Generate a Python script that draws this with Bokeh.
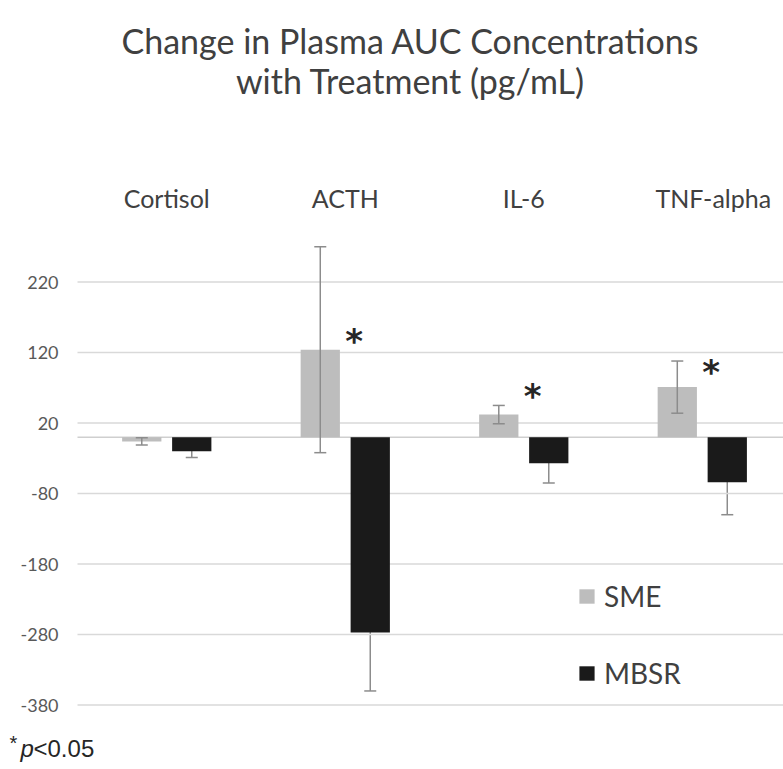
from bokeh.plotting import figure
from bokeh.models import (Range1d, Whisker, ColumnDataSource, Legend, LegendItem,
                          Label, TeeHead)
from bokeh.core.properties import value
from bokeh.embed import file_html
from bokeh.resources import INLINE

categories = ["Cortisol", "ACTH", "IL-6", "TNF-alpha"]
sme = [-6, 124, 32, 71]
sme_err = [5, 146, 13, 37]
mbsr = [-20, -277, -37, -64]
mbsr_err = [9, 83, 28, 46]
star_cats = ["ACTH", "IL-6", "TNF-alpha"]
star_y = [136, 58, 92]
y_ticks = [220, 120, 20, -80, -180, -280, -380]
title_lines = ["Change in Plasma AUC Concentrations", "with Treatment (pg/mL)"]

FONT = "Lato"
W, H = 783, 769
centers = [i + 0.5 for i in range(len(categories))]
label_shift = [0, 0, 0, 11]
off = 0.14
bw = 0.22
x_end = 3.955
x_start = -0.4314

p = figure(width=W, height=H, output_backend="svg", toolbar_location=None,
           x_range=Range1d(x_start, x_end), y_range=Range1d(-471.4, 619.4),
           x_axis_location=None, y_axis_location=None, min_border=0)
p.outline_line_color = None
p.background_fill_color = "white"
p.border_fill_color = "white"
p.grid.visible = False

# gridlines and tick labels
p.segment(x0=[0] * len(y_ticks), x1=[x_end] * len(y_ticks), y0=y_ticks, y1=y_ticks,
          line_color="#d9d9d9", line_width=1.5)
p.text(x=[0] * len(y_ticks), y=y_ticks, text=[str(t) for t in y_ticks], x_offset=-19,
       text_align="right", text_baseline="middle", text_font=value(FONT),
       text_font_size="18px", text_color="#595959")
p.segment(x0=[0], x1=[x_end], y0=[0], y1=[0], line_color="#cfcfcf", line_width=1.5)

# category labels on top
for c, n, s in zip(centers, categories, label_shift):
    p.add_layout(Label(x=c, y=197, x_units="data", y_units="canvas", text=n, x_offset=s,
                       text_align="center", text_baseline="middle", text_font=FONT,
                       text_font_size="25px", text_color="#404040"))

sme_src = ColumnDataSource(dict(x=[c - off for c in centers], top=sme,
                                upper=[v + e for v, e in zip(sme, sme_err)],
                                lower=[v - e for v, e in zip(sme, sme_err)]))
mbsr_src = ColumnDataSource(dict(x=[c + off for c in centers], top=mbsr,
                                 upper=[v + e for v, e in zip(mbsr, mbsr_err)],
                                 lower=[v - e for v, e in zip(mbsr, mbsr_err)]))

r_sme = p.vbar(x="x", top="top", bottom=0, width=bw, source=sme_src,
               fill_color="#bdbdbd", line_color=None)
r_mbsr = p.vbar(x="x", top="top", bottom=0, width=bw, source=mbsr_src,
                fill_color="#1a1a1a", line_color=None)

ec = "#8c8c8c"
w1 = Whisker(base="x", upper="upper", lower="lower", source=sme_src, level="annotation",
             line_color=ec, line_width=1.5,
             upper_head=TeeHead(size=12, line_color=ec, line_width=1.5),
             lower_head=TeeHead(size=12, line_color=ec, line_width=1.5))
w2 = Whisker(base="x", upper="upper", lower="lower", source=mbsr_src, level="underlay",
             line_color=ec, line_width=1.5,
             upper_head=TeeHead(size=12, line_color=ec, line_width=1.5),
             lower_head=TeeHead(size=12, line_color=ec, line_width=1.5))
p.add_layout(w1)
p.add_layout(w2)

p.text(x=[centers[categories.index(c)] + 0.05 for c in star_cats], y=star_y,
       text=["*"] * len(star_cats), text_align="center", text_baseline="middle",
       text_font=value("DejaVu Sans"), text_font_size="34px", text_font_style="bold",
       text_color="#262626")

legend = Legend(items=[LegendItem(label="SME", renderers=[r_sme]),
                       LegendItem(label="MBSR", renderers=[r_mbsr])],
                location=(577, 79), orientation="vertical",
                border_line_color=None, background_fill_alpha=0,
                glyph_width=19, glyph_height=18, label_height=30,
                label_text_font=FONT, label_text_font_size="28px",
                label_text_color="#404040", spacing=43, padding=0, margin=0,
                label_standoff=8)
p.add_layout(legend)

for i, t in enumerate(title_lines):
    p.add_layout(Label(x=410, y=40 + 40 * i, x_units="canvas", y_units="canvas",
                       text=t, text_align="center", text_baseline="middle",
                       text_font=FONT, text_font_size="34px", text_color="#404040"))

p.add_layout(Label(x=9, y=742, x_units="canvas", y_units="canvas", text="*",
                   text_align="left", text_baseline="middle",
                   text_font="Liberation Sans", text_font_size="20px", text_color="#262626"))
p.add_layout(Label(x=20, y=748, x_units="canvas", y_units="canvas", text="p",
                   text_align="left", text_baseline="middle", text_font_style="italic",
                   text_font="Liberation Sans", text_font_size="24px", text_color="#262626"))
p.add_layout(Label(x=33, y=748, x_units="canvas", y_units="canvas", text="<0.05",
                   text_align="left", text_baseline="middle",
                   text_font="Liberation Sans", text_font_size="24px", text_color="#262626"))

open("out.html", "w").write(file_html(p, INLINE))
